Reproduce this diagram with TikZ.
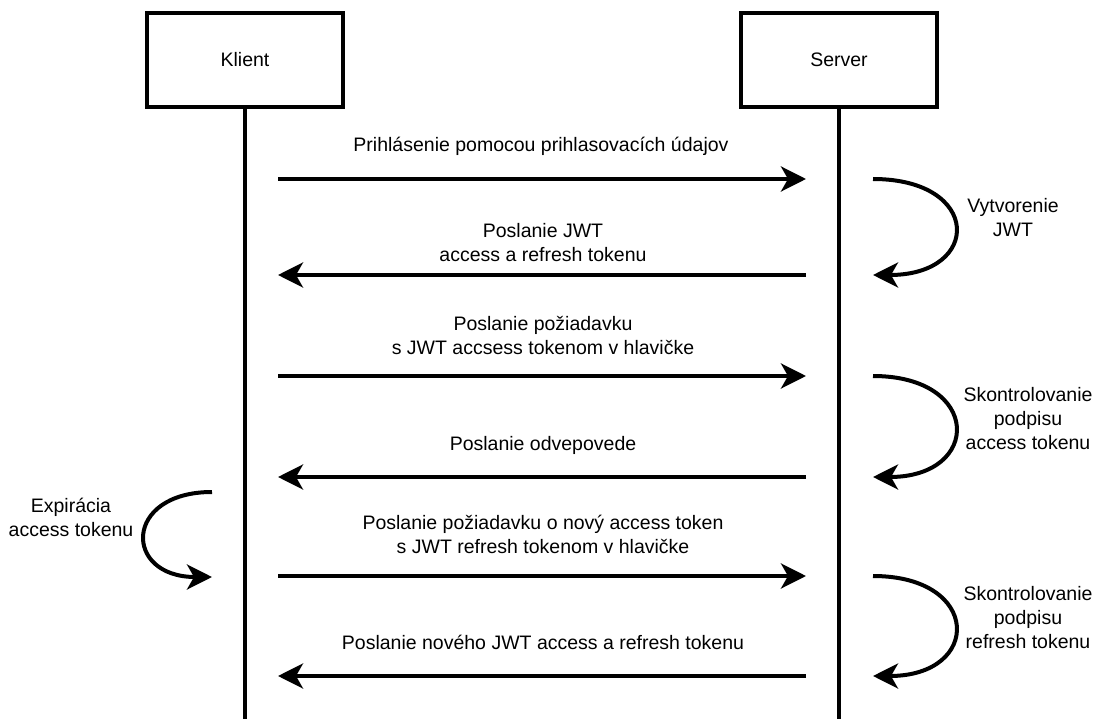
\documentclass[tikz,border=0pt]{standalone}
\usepackage{fontspec}
\setmainfont{Liberation Sans}
\usetikzlibrary{arrows.meta}
\tikzset{
  actor/.style={draw, line width=4pt, minimum width=196pt, minimum height=94pt, inner sep=0pt, font=\fontsize{19.5}{24}\selectfont},
  life/.style={line width=4pt},
  msg/.style={line width=4pt, -{Stealth[length=25pt, width=25pt, inset=7pt]}},
  lbl/.style={align=center, inner sep=0pt, anchor=base, font=\fontsize{19.5}{24}\selectfont},
}
\begin{document}
\begin{tikzpicture}[x=1pt, y=-1pt]
\useasboundingbox (0,0) rectangle (1095,719);
% actors
\node[actor] (klient) at (245,60) {Klient};
\node[actor] (server) at (839,60) {Server};
\coordinate (kend) at (245,719);
\coordinate (send) at (839,719);
\draw[life] (klient.south) -- (kend);
\draw[life] (server.south) -- (send);
% message endpoints
\foreach \n/\y in {1/179, 2/275, 3/376, 4/477, 5/576, 6/676} {
  \coordinate (k\n) at (278,\y);
  \coordinate (s\n) at (806,\y);
  \coordinate (c\n) at (873,\y);
}
\draw[msg] (k1) -- (s1);
\draw[msg] (s2) -- (k2);
\draw[msg] (k3) -- (s3);
\draw[msg] (s4) -- (k4);
\draw[msg] (k5) -- (s5);
\draw[msg] (s6) -- (k6);
% self arrows on server
\draw[msg] (c1) .. controls (982,179) and (982,275) .. (c2);
\draw[msg] (c3) .. controls (982,376) and (982,477) .. (c4);
\draw[msg] (c5) .. controls (982,576) and (982,676) .. (c6);
% self arrow on client
\coordinate (e1) at (212,492);
\coordinate (e2) at (212,577);
\draw[msg] (e1) .. controls (123,492) and (123,577) .. (e2);
% labels (anchored at the baseline of the last line)
\node[lbl] (t1) at (541,152) {Prihlásenie pomocou prihlasovacích údajov};
\node[lbl] (t2) at (543,262) {Poslanie JWT\\access a refresh tokenu};
\node[lbl] (t3) at (543,354) {Poslanie požiadavku\\s JWT accsess tokenom v hlavičke};
\node[lbl] (t4) at (543,450) {Poslanie odvepovede};
\node[lbl] (t5) at (543,553) {Poslanie požiadavku o nový access token\\s JWT refresh tokenom v hlavičke};
\node[lbl] (t6) at (543,649) {Poslanie nového JWT access a refresh tokenu};
\node[lbl] (v1) at (1013,237) {Vytvorenie\\JWT};
\node[lbl] (v2) at (1028,449) {Skontrolovanie\\podpisu\\access tokenu};
\node[lbl] (v3) at (1028,648) {Skontrolovanie\\podpisu\\refresh tokenu};
\node[lbl] (v4) at (71,536) {Expirácia\\access tokenu};
\end{tikzpicture}
\end{document}
